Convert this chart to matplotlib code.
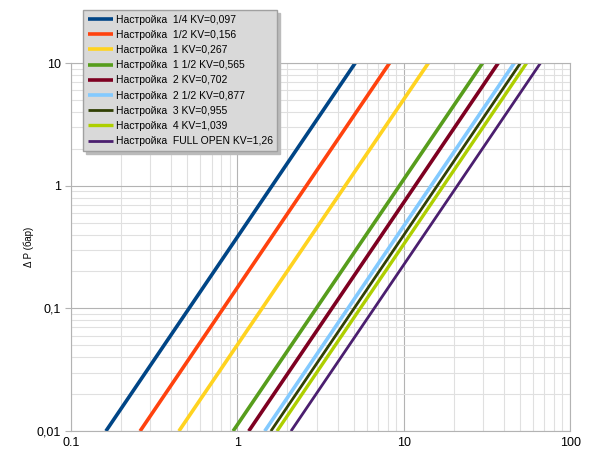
import matplotlib
matplotlib.use("Agg")
import matplotlib.pyplot as plt
from matplotlib.ticker import FixedLocator, FixedFormatter, LogLocator, NullFormatter

plt.rcParams['font.family'] = ['Liberation Sans', 'DejaVu Sans']

labels = ["Настройка  1/4 KV=0,097", "Настройка  1/2 KV=0,156", "Настройка  1 KV=0,267",
          "Настройка  1 1/2 KV=0,565", "Настройка  2 KV=0,702", "Настройка  2 1/2 KV=0,877",
          "Настройка  3 KV=0,955", "Настройка  4 KV=1,039", "Настройка  FULL OPEN KV=1,26"]
colors = ["#004586", "#ff420e", "#ffd320", "#579d1c", "#7e0021",
          "#83caff", "#314004", "#aecf00", "#4b1f6f"]
widths = [2.6, 2.6, 2.6, 2.6, 2.6, 2.6, 2.0, 2.4, 2.0]

dp_range = [0.01, 10]
flow_low = [0.162, 0.26, 0.445, 0.942, 1.17, 1.46, 1.59, 1.73, 2.1]
flow_high = [5.11, 8.22, 14.07, 29.8, 37.0, 46.2, 50.3, 54.8, 66.4]

fig = plt.figure(figsize=(5.92, 4.5), dpi=100)
ax = fig.add_axes([0.12, 0.042, 0.843, 0.818])

for lo, hi, c, w, lab in zip(flow_low, flow_high, colors, widths, labels):
    ax.plot([lo, hi], dp_range, color=c, lw=w, label=lab, solid_capstyle='butt')

ax.set_xscale('log')
ax.set_yscale('log')
ax.set_xlim(0.1, 100)
ax.set_ylim(0.01, 10)

ax.xaxis.set_major_locator(FixedLocator([0.1, 1, 10, 100]))
ax.xaxis.set_major_formatter(FixedFormatter(["0.1", "1", "10", "100"]))
ax.yaxis.set_major_locator(FixedLocator([0.01, 0.1, 1, 10]))
ax.yaxis.set_major_formatter(FixedFormatter(["0,01", "0,1", "1", "10"]))
ax.xaxis.set_minor_locator(LogLocator(base=10, subs=range(2, 10)))
ax.yaxis.set_minor_locator(LogLocator(base=10, subs=range(2, 10)))
ax.xaxis.set_minor_formatter(NullFormatter())
ax.yaxis.set_minor_formatter(NullFormatter())

ax.grid(True, which='major', color='#b3b3b3', lw=0.8)
ax.grid(True, which='minor', color='#e0e0e0', lw=0.8)
ax.set_axisbelow(True)
ax.tick_params(which='both', labelsize=9, color='#b3b3b3', length=4)
ax.tick_params(which='minor', length=0)
ax.tick_params(axis='x', which='major', length=0, pad=4)
for s in ax.spines.values():
    s.set_color('#b3b3b3')
    s.set_linewidth(0.8)

ax.set_ylabel("Δ P (бар)", fontsize=7)
ax.yaxis.set_label_coords(-0.075, 0.5)

leg = fig.legend(loc='upper left', bbox_to_anchor=(0.14, 0.978), fontsize=7.5,
                 frameon=True, fancybox=False, shadow={'color': '#bbbbbb', 'alpha': 1},
                 labelspacing=0.5, handlelength=2.4, handletextpad=0.3,
                 borderpad=0.45, borderaxespad=0)
leg.get_frame().set_facecolor('#d9d9d9')
leg.get_frame().set_edgecolor('#a0a0a0')
leg.get_frame().set_alpha(1)

fig.savefig("out.png", dpi=100)
